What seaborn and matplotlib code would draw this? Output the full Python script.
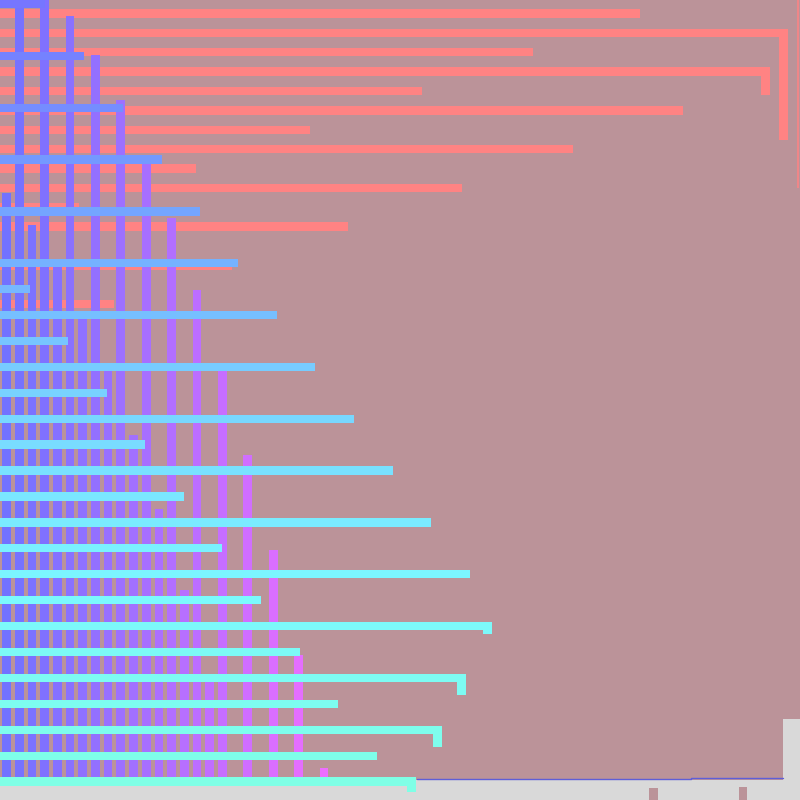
import matplotlib.pyplot as plt
from matplotlib.colors import LinearSegmentedColormap, to_hex
import seaborn as sns

sns.set_style("white")

BG = "#BB9399"
FLOOR = "#D9D9D9"
RED = "#FF8383"

# salmon rows, top row first
red_len = [640, 788, 533, 770, 422, 683, 310, 573, 196, 462, 79, 348, 0, 232, 0, 114]
red_hook_row = [1, 3]
red_hook_drop = [5.53, 1.22]
red_edge_rows = [-0.7, 9.0]

# blue -> magenta columns, height above the floor
col_height = [587, 780, 555, 780, 513, 764, 462, 725, 409, 680, 345, 617, 271,
              562, 190, 490, 98, 410, 0, 325, 0, 230, 0, 125, 0, 12]

# cyan rows, top row first
cyan_len = [45, 0, 84, 0, 123, 0, 162, 0, 200, 0, 238, 30, 277, 68, 315, 107,
            354, 145, 393, 184, 431, 222, 470, 261, 492, 300, 466, 338, 442, 377, 416]
cyan_hook_row = [24, 26, 28, 30]
cyan_hook_drop = [0.29, 0.65, 0.67, 0.39]

# floor strip along the bottom
floor_left = [0, 783]
floor_width = [783, 17]
floor_height = [20, 81]
notch_left = [649.3, 738.7]
notch_height = [11.7, 13]
rim_x = [416.7, 691, 782.7]
rim_y = [21, 22, 22]


def gradient(stops, n):
    cmap = LinearSegmentedColormap.from_list("g", stops)
    return [to_hex(cmap(i / (n - 1))) for i in range(n)]


fig = plt.figure(figsize=(8, 8), dpi=100)
fig.patch.set_facecolor(BG)

# floor
ax_floor = fig.add_axes([0, 0, 1, 1])
ax_floor.bar(floor_left, floor_height, width=floor_width, align="edge", color=FLOOR, linewidth=0)
ax_floor.bar(notch_left, notch_height, width=8.7, align="edge", color=BG, linewidth=0)
ax_floor.step(rim_x, rim_y, where="post", color="#5E5ED8", lw=1)
ax_floor.set_xlim(0, 800)
ax_floor.set_ylim(0, 800)
ax_floor.set_axis_off()

# salmon rows
ax_red = fig.add_axes([0, 0, 1, 1])
red_rows = [str(i) for i in range(len(red_len))]
sns.barplot(x=red_len, y=red_rows, orient="h", color=RED, width=0.43,
            saturation=1, linewidth=0, errorbar=None, ax=ax_red)
for r, d in zip(red_hook_row, red_hook_drop):
    ax_red.bar(red_len[r] - 4.3, d + 0.215, bottom=r - 0.215, width=8.6,
               color=RED, linewidth=0)
ax_red.vlines(798.3, red_edge_rows[0], red_edge_rows[1], color=RED, lw=1.1)
ax_red.set_xlim(0, 800)
ax_red.set_ylim(40.6, -0.697)
ax_red.set_axis_off()

# columns
ax_col = fig.add_axes([0, 0, 1, 1])
col_ids = [str(i) for i in range(len(col_height))]
col_colors = gradient(["#7272FF", "#9A70FF", "#C46EFF", "#EE6EFF"], len(col_height))
sns.barplot(x=col_ids, y=col_height, hue=col_ids, palette=col_colors, width=0.68,
            saturation=1, linewidth=0, errorbar=None, legend=False, ax=ax_col)
ax_col.set_xlim(-0.512, 62.48)
ax_col.set_ylim(-20, 780)
ax_col.set_axis_off()

# cyan rows
ax_cyan = fig.add_axes([0, 0, 1, 1])
cyan_rows = [str(i) for i in range(len(cyan_len))]
cyan_colors = gradient(["#7676FF", "#74A2FF", "#78D2FF", "#7BF8FF", "#7FFFE6"], len(cyan_len))
sns.barplot(x=cyan_len, y=cyan_rows, hue=cyan_rows, palette=cyan_colors, orient="h",
            width=0.32, saturation=1, linewidth=0, errorbar=None, legend=False, ax=ax_cyan)
for r, d in zip(cyan_hook_row, cyan_hook_drop):
    ax_cyan.bar(cyan_len[r] - 4.3, d + 0.16, bottom=r - 0.16, width=8.6,
                color=cyan_colors[r], linewidth=0)
ax_cyan.set_xlim(0, 800)
ax_cyan.set_ylim(30.71, -0.154)
ax_cyan.set_axis_off()

fig.savefig("out.png", dpi=100, facecolor=BG)
